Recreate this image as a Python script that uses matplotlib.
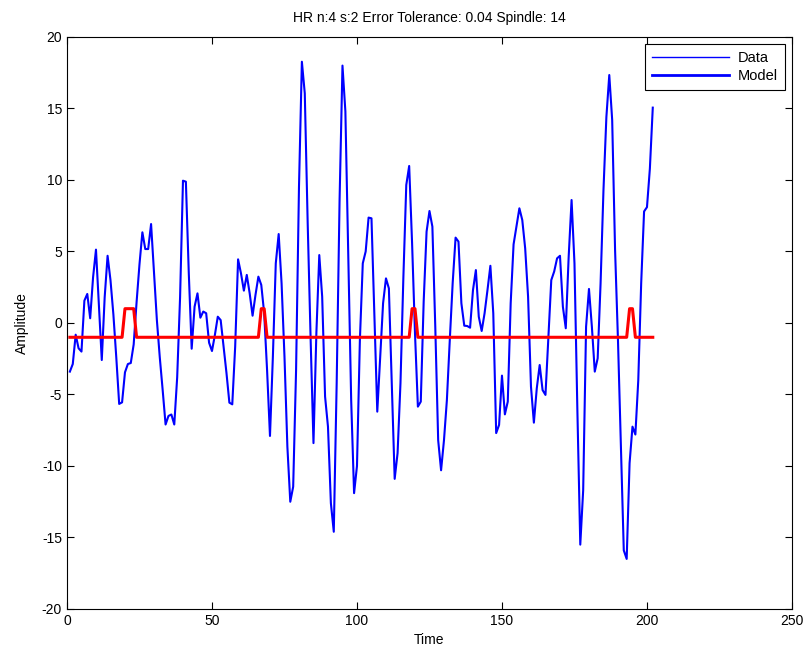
import numpy as np
import matplotlib
matplotlib.use("Agg")
import matplotlib.pyplot as plt
from matplotlib.lines import Line2D

plt.rcParams['font.family'] = ['Liberation Sans', 'DejaVu Sans']
plt.rcParams['axes.unicode_minus'] = False

# signal, sample 1..202
data = [
    -3.4, -2.87, -0.82, -1.77, -2.0, 1.56, 2.03, 0.33, 3.2, 5.13,
    1.3, -2.59, 1.8, 4.7, 3.0, 0.6, -2.4, -5.66, -5.55, -3.45,
    -2.87, -2.8, -1.5, 1.45, 4.1, 6.34, 5.17, 5.17, 6.92, 3.6,
    0.2, -2.4, -4.7, -7.1, -6.5, -6.4, -7.1, -3.8, 1.8, 9.95,
    9.88, 3.5, -1.8, 1.14, 2.07, 0.37, 0.8, 0.68, -1.38, -1.96,
    -0.84, 0.44, 0.2, -1.65, -3.5, -5.57, -5.69, -1.65, 4.45, 3.47,
    2.26, 3.36, 2.07, 0.51, 1.96, 3.24, 2.66, 0.68, -3.3, -7.9,
    -2.35, 4.17, 6.22, 2.77, -2.35, -8.65, -12.5, -11.45, -3.3, 9.5,
    18.27, 16.06, 7.0, -1.0, -8.4, -0.7, 4.75, 1.84, -5.15, -7.25,
    -12.6, -14.6, -4.2, 8.6, 18.0, 14.8, 4.6, -5.4, -11.9, -10.0,
    -1.2, 4.17, 5.0, 7.37, 7.32, 0.44, -6.2, -2.35, 1.38, 3.12,
    2.42, -4.2, -10.9, -9.1, -4.2, 3.2, 9.65, 10.98, 5.6, -0.7,
    -5.85, -5.5, 1.5, 6.39, 7.83, 6.74, -0.26, -8.2, -10.3, -8.2,
    -5.4, -1.2, 2.8, 5.97, 5.69, 1.38, -0.19, -0.21, -0.33, 2.3,
    3.7, 0.44, -0.56, 0.68, 2.3, 4.0, 0.68, -7.7, -7.13, -3.68,
    -6.39, -5.5, 1.38, 5.5, 6.74, 8.02, 7.2, 5.22, 1.84, -4.45,
    -6.97, -4.57, -2.94, -4.69, -5.03, -0.96, 3.0, 3.6, 4.52, 4.7,
    1.14, -0.37, 4.64, 8.6, 4.17, -6.1, -15.5, -11.7, -0.26, 2.38,
    -0.26, -3.4, -2.47, 2.77, 9.3, 14.4, 17.34, 14.2, 5.1, -1.2,
    -8.65, -15.9, -16.5, -9.8, -7.25, -7.8, -4.0, 2.77, 7.8, 8.1,
    10.8, 15.06,
]

# model: -1 everywhere except short pulses at +1
model = ([-1] * 19 + [1] * 4 + [-1] * 43 + [1] * 2 + [-1] * 50 + [1] * 2
         + [-1] * 73 + [1] * 2 + [-1] * 7)

t = np.arange(1, len(data) + 1)

xticks = [0, 50, 100, 150, 200, 250]
yticks = [-20, -15, -10, -5, 0, 5, 10, 15, 20]

fig = plt.figure(figsize=(8.06, 6.5), dpi=100)
ax = fig.add_axes([0.0831, 0.0631, 0.8995, 0.88])

ax.plot(t, data, color='#0000ff', lw=1.5)
ax.plot(t, model, color='#ff0000', lw=2.2)

ax.set_xlim(0, 250)
ax.set_ylim(-20, 20)
ax.set_xticks(xticks)
ax.set_yticks(yticks)
ax.tick_params(direction='in', top=True, right=True, labelsize=10, length=5)
for s in ax.spines.values():
    s.set_linewidth(0.8)

ax.set_xlabel('Time', fontsize=10, labelpad=4)
ax.set_ylabel('Amplitude', fontsize=10, labelpad=9)
ax.set_title('HR n:4 s:2 Error Tolerance: 0.04 Spindle: 14', fontsize=10, pad=11)

# legend as drawn in the original: both entries in blue
handles = [Line2D([], [], color='#0000ff', lw=1.0),
           Line2D([], [], color='#0000ff', lw=2.0)]
leg = ax.legend(handles, ['Data', 'Model'], loc='upper right', fontsize=10.5,
                fancybox=False, framealpha=1, edgecolor='black',
                borderaxespad=0.5, handlelength=5.3, handletextpad=0.6,
                labelspacing=0.3, borderpad=0.45)
leg.get_frame().set_linewidth(0.8)

fig.savefig('out.png', dpi=100)
